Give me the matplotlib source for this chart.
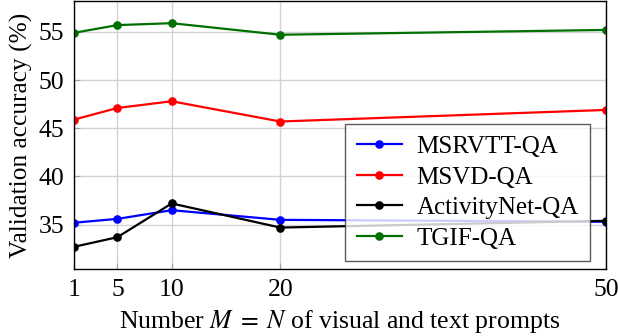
import matplotlib
matplotlib.use("Agg")
import matplotlib.pyplot as plt

# prompt counts (M = N)
prompts = [1, 5, 10, 20, 50]

msrvtt = [35.2, 35.6, 36.5, 35.5, 35.3]
msvd = [45.9, 47.1, 47.8, 45.7, 46.9]
activitynet = [32.7, 33.7, 37.2, 34.7, 35.4]
tgif = [54.9, 55.7, 55.9, 54.7, 55.2]

series_names = ["MSRVTT-QA", "MSVD-QA", "ActivityNet-QA", "TGIF-QA"]
series_colors = ["#0000ff", "#ff0000", "#000000", "#007000"]

plt.rcParams["font.family"] = ["Liberation Serif", "DejaVu Serif"]
plt.rcParams["mathtext.fontset"] = "stix"

fig = plt.figure(figsize=(6.18, 3.36), dpi=100)
ax = fig.add_axes([0.1197, 0.1994, 0.8609, 0.7976])

for vals, name, col in zip([msrvtt, msvd, activitynet, tgif], series_names, series_colors):
    ax.plot(prompts, vals, color=col, lw=1.6, marker="o", ms=5,
            markeredgewidth=1.2, label=name)

ax.set_xlim(1, 50)
ax.set_ylim(30.4, 58.2)
ax.set_xticks(prompts)
ax.set_yticks([35, 40, 45, 50, 55])
ax.grid(True, color="#d3d3d3", lw=1.0)
ax.set_axisbelow(True)
ax.tick_params(direction="in", labelsize=18.5, length=4, color="#a0a0a0", pad=7)
for s in ax.spines.values():
    s.set_linewidth(1.0)

ax.set_xlabel("Number $M\\;=\\;N$ of visual and text prompts", fontsize=18.5, labelpad=5)
ax.set_ylabel("Validation accuracy (%)", fontsize=18.3, labelpad=4)

leg = ax.legend(loc="lower right", bbox_to_anchor=(0.97, 0.03), borderaxespad=0,
                fontsize=18, fancybox=False, framealpha=0.8, edgecolor="#333333",
                handlelength=1.8, labelspacing=0.32, handletextpad=0.6,
                borderpad=0.45)
leg.get_frame().set_linewidth(1.0)

fig.savefig("out.png", dpi=100)
